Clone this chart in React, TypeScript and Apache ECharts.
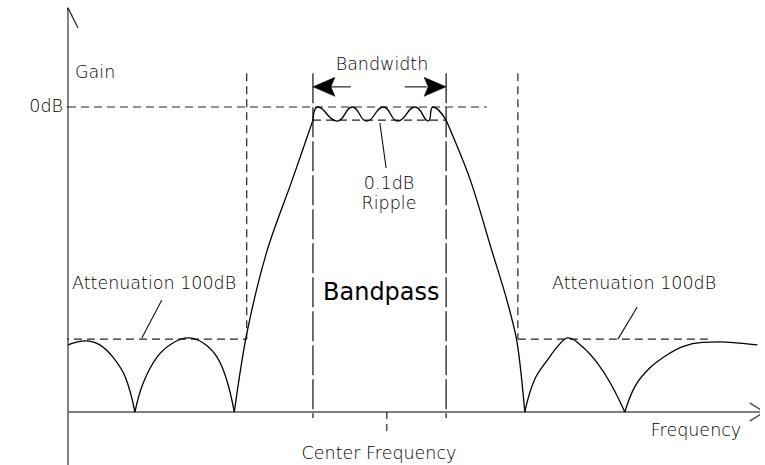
import { useEffect, useRef } from "react";
import * as echarts from "echarts";

// Frequency axis: 0..100 (arbitrary units), Gain axis: 0 = baseline, 100 = 0dB
const stopLeftLobe1 = [[0, 22.0], [2.5, 23.3], [4.6, 22.0], [6.5, 18.0], [8.3, 11.5], [9.7, 0]];
const stopLeftLobe2 = [[9.7, 0], [10.9, 9.5], [12.9, 18.0], [15.2, 22.6], [17.4, 24.3], [19.6, 22.6], [21.6, 18.0], [23.0, 10.5], [24.1, 0]];
const risingEdge = [[24.1, 0], [25.9, 25.6], [28.8, 52.5], [32.5, 76.1], [35.5, 95.7]];
const passbandRipple = [[35.5, 95.7], [36.2, 100], [39.0, 95.4], [41.2, 100], [43.3, 95.4], [45.7, 100], [47.8, 95.4], [50.3, 100], [52.2, 95.4], [52.9, 100], [54.8, 95.7]];
const fallingEdge = [[54.8, 95.7], [58.3, 76.1], [61.4, 53.1], [63.6, 36.7], [65.1, 22.6], [66.2, 0]];
const stopRightLobe1 = [[66.2, 0], [67.6, 10.5], [69.6, 17.4], [71.0, 21.6], [72.5, 24.3], [74.6, 21.3], [76.7, 16.1], [78.6, 9.5], [80.7, 0]];
const stopRightLobe2 = [[80.7, 0], [82.2, 8.5], [84.3, 14.4], [86.8, 18.7], [89.3, 21.6], [91.9, 22.8], [94.5, 23.0], [97.2, 22.6], [99.9, 22.0]];

const zeroDbLevel = 100;
const rippleFloor = 95.7;
const attenuationLevel = 23.9;
const guideTop = 111.1;
const bandLow = 35.5;
const bandHigh = 54.8;
const bandEdgeBottom = -2.0;
const transitionLow = 25.9;
const transitionHigh = 65.2;
const centerFreq = 46.2;
const centerTickBottom = -7.5;
const bandwidthArrowLevel = 106.6;
const bandwidthShafts = [[38.0, 41.0], [48.8, 52.0]];
const xAxisRange = [-5.65, 100.9];
const yAxisRange = [-17.4, 132.5];
const zeroDbTickStart = -2.9;
const zeroDbDashEnd = 60.7;
const attenuationLeftStart = -2.9;
const attenuationRightEnd = 93.3;
const rippleLeader = [[45.2, 94.8], [46.1, 80.0]];
const attLeftLeader = [[13.6, 36.7], [10.7, 24.3]];
const attRightLeader = [[82.5, 34.4], [79.7, 23.9]];
const xArrow = [[98.8, 3.0], [100.9, 0], [98.8, -3.0]];
const yArrow = [[-1.45, 125.9], [0, 132.5], [1.45, 125.9]];

const FONT = '"DejaVu Sans", "Liberation Sans", sans-serif';

function seg(data: number[][], lineStyle: any, smooth: boolean | number = false, z = 2) {
  return {
    type: "line",
    data,
    symbol: "none",
    clip: false,
    silent: true,
    smooth,
    z,
    lineStyle,
  };
}

export default function App() {
  const ref = useRef<HTMLDivElement>(null);
  useEffect(() => {
    document.body.style.margin = "0";
    if (!ref.current) return;
    const chart = echarts.init(ref.current, undefined, { renderer: "svg" });
    const curve = { color: "#000", width: 1.3 };
    const dash = { color: "#222", width: 1.2, type: [8, 5] };
    const dashLong = { color: "#111", width: 1.2, type: [30, 4] };
    const axis = { color: "#555", width: 1.6 };
    const yAxisStyle = { color: "#777", width: 1.8 };
    const thin = { color: "#111", width: 1.1 };

    const series: any[] = [
      // axes
      seg([[xAxisRange[0], 0], [xAxisRange[1], 0]], axis),
      seg([[0, yAxisRange[0]], [0, yAxisRange[1]]], yAxisStyle),
      seg(xArrow, axis),
      seg(yArrow, { color: "#333", width: 1.3 }),
      // guides
      seg([[zeroDbTickStart, zeroDbLevel], [0, zeroDbLevel]], thin),
      seg([[0, zeroDbLevel], [zeroDbDashEnd, zeroDbLevel]], dash),
      seg([[bandLow, rippleFloor], [bandHigh, rippleFloor]], dash),
      seg([[transitionLow, guideTop], [transitionLow, attenuationLevel]], dash),
      seg([[attenuationLeftStart, attenuationLevel], [transitionLow, attenuationLevel]], dash),
      seg([[transitionHigh, guideTop], [transitionHigh, attenuationLevel]], dash),
      seg([[transitionHigh, attenuationLevel], [attenuationRightEnd, attenuationLevel]], dash),
      seg([[bandLow, guideTop], [bandLow, bandEdgeBottom]], dashLong),
      seg([[bandHigh, guideTop], [bandHigh, bandEdgeBottom]], dashLong),
      seg([[centerFreq, 0], [centerFreq, centerTickBottom]], { color: "#222", width: 1.2, type: [7, 5] }),
      // leaders
      seg(rippleLeader, thin),
      seg(attLeftLeader, thin),
      seg(attRightLeader, thin),
      seg([[bandwidthShafts[0][0], bandwidthArrowLevel], [bandwidthShafts[0][1], bandwidthArrowLevel]], thin),
      seg([[bandwidthShafts[1][0], bandwidthArrowLevel], [bandwidthShafts[1][1], bandwidthArrowLevel]], thin),
      // response curve
      seg(stopLeftLobe1, curve, 0.4, 5),
      seg(stopLeftLobe2, curve, 0.4, 5),
      seg(risingEdge, curve, 0.3, 5),
      seg(passbandRipple, curve, 0.5, 5),
      seg(fallingEdge, curve, 0.3, 5),
      seg(stopRightLobe1, curve, 0.4, 5),
      seg(stopRightLobe2, curve, 0.4, 5),
      {
        type: "custom",
        coordinateSystem: "cartesian2d",
        silent: true,
        clip: false,
        z: 6,
        data: [[bandLow, bandwidthArrowLevel, -1], [bandHigh, bandwidthArrowLevel, 1]],
        renderItem: (_p: any, api: any) => {
          const pt = api.coord([api.value(0), api.value(1)]);
          const x = pt[0];
          const y = pt[1];
          const s = -api.value(2);
          return {
            type: "polygon",
            shape: { points: [[x, y], [x + s * 22, y - 9.5], [x + s * 18, y], [x + s * 22, y + 9.5]] },
            style: { fill: "#000", stroke: "#000", lineWidth: 0.5 },
          };
        },
      },
    ];

    const txt = (text: string, x: number, y: number, align: string, size = 17.5, weight: any = 200) => ({
      type: "text",
      x,
      y,
      silent: true,
      style: {
        text,
        x: 0,
        y: 0,
        fill: "#000",
        fontSize: size,
        fontFamily: FONT,
        fontWeight: weight,
        align,
        verticalAlign: "middle",
      },
    });

    chart.setOption({
      animation: false,
      grid: { left: 68, right: 7, top: 107, bottom: 53 },
      xAxis: { type: "value", min: 0, max: 100, show: false },
      yAxis: { type: "value", min: 0, max: 100, show: false },
      series,
      graphic: [
        txt("Gain", 75, 72, "left"),
        txt("0dB", 63, 106, "right"),
        txt("Bandwidth", 382, 64, "center"),
        txt("0.1dB", 389, 183, "center"),
        txt("Ripple", 389, 203, "center"),
        txt("Bandpass", 323, 292, "left", 24, "normal"),
        txt("Attenuation 100dB", 72, 283, "left"),
        txt("Attenuation 100dB", 552, 283, "left"),
        txt("Frequency", 696, 430, "center"),
        txt("Center Frequency", 379, 453, "center"),
      ],
    });
    return () => chart.dispose();
  }, []);
  return <div ref={ref} style={{ width: 765, height: 465 }} />;
}
